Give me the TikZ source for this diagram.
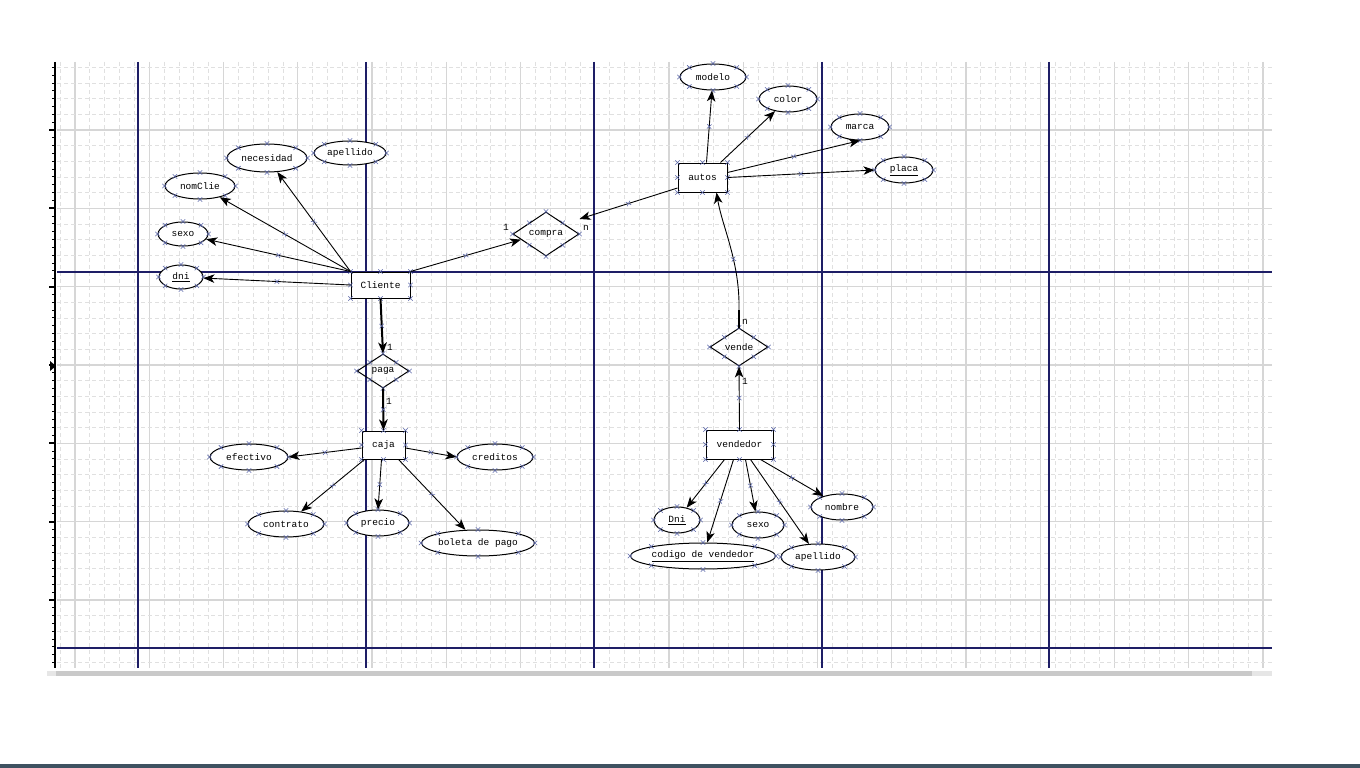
\documentclass[tikz,border=0pt]{standalone}
\usepackage{fontspec}
\setmonofont{Liberation Mono}
\usetikzlibrary{arrows.meta,shapes.geometric,calc,decorations.markings}
\definecolor{gminor}{HTML}{E0E0E0}
\definecolor{gmajor}{HTML}{D6D6D6}
\definecolor{pageline}{HTML}{1E1E66}
\definecolor{xcol}{HTML}{5A66A8}
\definecolor{sbar}{HTML}{C9C9C9}
\definecolor{sbarlt}{HTML}{E6E6E6}
\definecolor{taskbar}{HTML}{3E5261}
\tikzset{
 lbl/.style={font=\ttfamily\fontsize{9.5}{11}\selectfont, text=black},
 ent/.style={lbl, draw=black, line width=1pt, fill=white, rectangle, inner sep=0pt},
 att/.style={lbl, draw=black, line width=1pt, fill=white, ellipse, inner sep=0pt},
 rel/.style={lbl, draw=black, line width=1pt, diamond, inner sep=0pt},
 card/.style={lbl, inner sep=0pt},
 xmk/.style={draw=xcol, line width=0.55pt, arrows=-},
 conn/.style={draw=black, line width=0.9pt, -{Stealth[length=11pt,width=8.5pt,inset=3pt]},
   postaction={decorate},
   decoration={markings, mark=at position 0.5 with {\draw[xmk] (-2.2pt,-2.2pt)--(2.2pt,2.2pt) (-2.2pt,2.2pt)--(2.2pt,-2.2pt);}}},
 heavy/.style={conn, line width=2pt},
 gmin/.style={draw=gminor, line width=0.8pt, dash pattern=on 4pt off 3pt},
 gmaj/.style={draw=gmajor, line width=1.1pt},
 pline/.style={draw=pageline, line width=1.3pt},
}
\newcommand\xmk[1]{\draw[xmk] ([shift={(-2.2pt,-2.2pt)}]#1) -- ([shift={(2.2pt,2.2pt)}]#1) ([shift={(-2.2pt,2.2pt)}]#1) -- ([shift={(2.2pt,-2.2pt)}]#1);}
\begin{document}
\begin{tikzpicture}[x=1pt,y=-1pt]
\useasboundingbox[fill=white] (0,0) rectangle (1360,768);
% grid
\foreach \i in {-1,...,80}{
  \pgfmathsetmacro{\xx}{75+\i*14.85}
  \pgfmathtruncatemacro{\mm}{mod(\i+5,5)}
  \ifnum\mm=0 \draw[gmaj] (\xx,62) -- (\xx,668); \else \draw[gmin] (\xx,62) -- (\xx,668); \fi
}
\foreach \j in {-4,...,34}{
  \pgfmathsetmacro{\yy}{130+\j*15.667}
  \pgfmathtruncatemacro{\mm}{mod(\j+5,5)}
  \ifnum\mm=0 \draw[gmaj] (57,\yy) -- (1272,\yy); \else \draw[gmin] (57,\yy) -- (1272,\yy); \fi
}
% page lines
\foreach \xx in {138,366,594,822,1049}{\draw[pline] (\xx,62) -- (\xx,668);}
\foreach \yy in {272,648}{\draw[pline] (57,\yy) -- (1272,\yy);}
% ruler
\draw[black, line width=2pt] (55,62) -- (55,668);
\foreach \k in {-8,...,68}{
  \pgfmathsetmacro{\yy}{130+\k*7.833}
  \pgfmathtruncatemacro{\mm}{mod(\k+10,10)}
  \ifnum\mm=0 \draw[black, line width=1.8pt] (49,\yy) -- (55,\yy); \else \draw[black, line width=1pt] (52,\yy) -- (55,\yy); \fi
}
\fill[black] (50,361) -- (56,366) -- (50,371) -- cycle;
% scroll bar and task bar
\fill[sbarlt] (47,671) rectangle (1272,676);
\fill[sbar] (56,671) rectangle (1252,676);
\fill[taskbar] (0,764) rectangle (1360,768);

% ---- entities, relations, attributes
\node[ent, minimum width=59pt, minimum height=26pt] (Cliente) at (380.5,285) {Cliente};
\node[att, minimum width=44pt, minimum height=24pt] (dni) at (181,277) {\underline{dni}};
\node[att, minimum width=50pt, minimum height=24pt] (sexoC) at (183,234) {sexo};
\node[att, minimum width=70pt, minimum height=26pt] (nomClie) at (200,186) {nomClie};
\node[att, minimum width=80pt, minimum height=28pt] (necesidad) at (267,158) {necesidad};
\node[att, minimum width=72pt, minimum height=24pt] (apellidoC) at (350,153) {apellido};

\node[rel, minimum width=66pt, minimum height=44pt] (compra) at (546,234) {compra};
\node[ent, minimum width=49pt, minimum height=29pt] (autos) at (702.5,177.5) {autos};
\node[att, minimum width=66pt, minimum height=26pt] (modelo) at (713,77) {modelo};
\node[att, minimum width=58pt, minimum height=26pt] (color) at (788,99) {color};
\node[att, minimum width=58pt, minimum height=26pt] (marca) at (860,127) {marca};
\node[att, minimum width=58pt, minimum height=26pt] (placa) at (904,170) {\underline{placa}};

\node[rel, minimum width=58pt, minimum height=38pt] (vende) at (739,347) {vende};
\node[ent, minimum width=67pt, minimum height=29pt] (vendedor) at (739.5,444.5) {vendedor};
\node[att, minimum width=46pt, minimum height=26pt] (Dni) at (677,520) {\underline{Dni}};
\node[att, minimum width=132pt, minimum height=26pt] (codigo) at (703,556) {\underline{codigo de vendedor}};
\node[att, minimum width=52pt, minimum height=26pt] (sexoV) at (758,525) {sexo};
\node[att, minimum width=62pt, minimum height=26pt] (nombre) at (842,507) {nombre};
\node[att, minimum width=74pt, minimum height=26pt] (apellidoV) at (818,557) {apellido};

\node[rel, minimum width=52pt, minimum height=34pt] (paga) at (383,371) {paga};
\node[ent, minimum width=43pt, minimum height=28pt] (caja) at (383.5,445) {caja};
\node[att, minimum width=78pt, minimum height=26pt] (efectivo) at (249,457) {efectivo};
\node[att, minimum width=76pt, minimum height=26pt] (creditos) at (495,457) {creditos};
\node[att, minimum width=76pt, minimum height=26pt] (contrato) at (286,524) {contrato};
\node[att, minimum width=62pt, minimum height=26pt] (precio) at (378,523) {precio};
\node[att, minimum width=108pt, minimum height=26pt] (boleta) at (478,543) {boleta de pago};

% handle marks on shapes
\foreach \n in {Cliente,dni,sexoC,nomClie,necesidad,apellidoC,compra,autos,modelo,color,marca,placa,vende,vendedor,Dni,codigo,sexoV,nombre,apellidoV,paga,caja,efectivo,creditos,contrato,precio,boleta}{
  \foreach \a in {north,south,east,west,north east,north west,south east,south west}{
    \xmk{\n.\a}
  }
}

% ---- connectors
\draw[conn] (Cliente.west) -- (dni);
\draw[conn] (Cliente.north west) -- (sexoC);
\draw[conn] (Cliente.north west) -- (nomClie);
\draw[conn] (Cliente.north west) -- (necesidad);
\draw[conn] (Cliente.north east) -- ($(compra.west)!0.25!(compra.south)$);
\draw[heavy] (Cliente.south) -- (paga.north);
\draw[heavy] (paga.south) -- (caja.north);

\draw[conn] ([yshift=-10.5pt]autos.west) -- ([yshift=15pt]compra.east);
\draw[conn] ([xshift=4pt]autos.north) -- (modelo);
\draw[conn] ([xshift=18pt]autos.north) -- (color);
\draw[conn] ([yshift=5pt]autos.east) -- (marca.south);
\draw[conn] (autos.east) -- (placa.west);

\draw[conn] (vendedor.north) -- (vende.south);
\draw[conn] (vende.north) -- ++(0,-18) coordinate (vbend) .. controls (740,262) and (722,226) .. ([xshift=14pt]autos.south);
\draw[black, line width=2pt] (vende.north) -- (vbend);

\draw[conn] ([xshift=-15pt]vendedor.south) -- (Dni);
\draw[conn] ([xshift=-6pt]vendedor.south) -- (codigo);
\draw[conn] ([xshift=6pt]vendedor.south) -- (sexoV);
\draw[conn] ([xshift=11pt]vendedor.south) -- (apellidoV);
\draw[conn] ([xshift=21pt]vendedor.south) -- (nombre);

\draw[conn] ([yshift=-3pt]caja.west) -- (efectivo.east);
\draw[conn] ([yshift=-3pt]caja.east) -- (creditos.west);
\draw[conn] ([xshift=-19pt]caja.south) -- (contrato);
\draw[conn] ([xshift=-2pt]caja.south) -- (precio.north);
\draw[conn] ([xshift=15pt]caja.south) -- (boleta);

% cardinalities
\node[card] (c1) at (506,227) {1};
\node[card] (c2) at (586,228) {n};
\node[card] (c3) at (390,347) {1};
\node[card] (c4) at (389,401) {1};
\node[card] (c5) at (745,322) {n};
\node[card] (c6) at (745,381) {1};
\end{tikzpicture}
\end{document}
